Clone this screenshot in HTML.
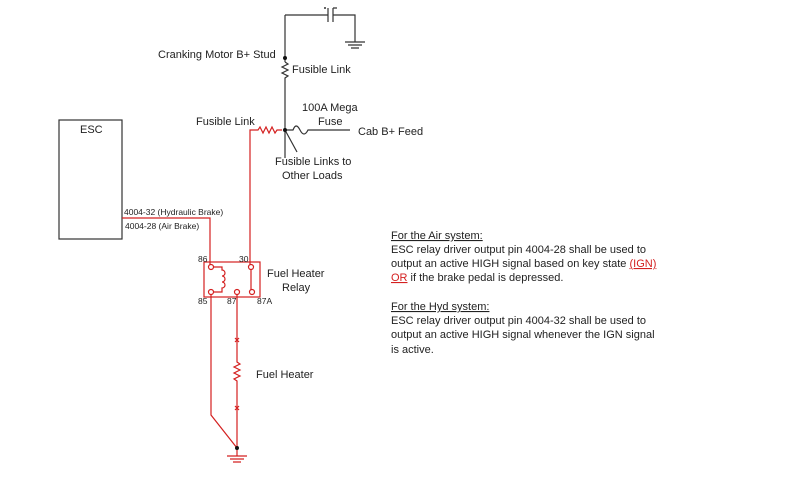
<!DOCTYPE html>
<html><head><meta charset="utf-8"><style>
html,body{margin:0;padding:0;background:#fff;width:800px;height:484px;overflow:hidden}
svg{display:block}
text{font-family:"Liberation Sans",Arial,sans-serif;fill:#222}
</style></head><body>
<svg width="800" height="484" viewBox="0 0 800 484" xmlns="http://www.w3.org/2000/svg">
<g fill="none" stroke="#333" stroke-width="1.2">
<path d="M285,15 H328 M333,15 H355 V42 M328,8 V22 M333,8 V22 M333,8 H337"/>
<path d="M285,15 V62 M285,62 l3,2 l-6,3 l6,3 l-6,3 l6,3 l-3,2 V130"/>
<path d="M345,42 H365 M348,45 H362 M351,48 H359"/>
<path d="M285,130 H293 q3,-8 7,0 q4,8 8,0 H350"/>
<path d="M285,130 V158 M285,130 L297,152"/>
<rect x="59" y="120" width="63" height="119"/>
</g>
<circle cx="325" cy="8" r="1" fill="#333"/>
<circle cx="285" cy="58" r="2" fill="#111"/>
<circle cx="285" cy="130" r="2" fill="#111"/>
<g fill="none" stroke="#d42020" stroke-width="1.2">
<path d="M250,265 V130 H258 l2,-3 l3,6 l3,-6 l3,6 l3,-6 l3,6 l2,-3 H282"/>
<path d="M122,218 H210 V265"/>
<rect x="204" y="262" width="56" height="35"/>
<circle cx="211" cy="267" r="2.5"/><circle cx="251" cy="267" r="2.5"/>
<circle cx="211" cy="292" r="2.5"/><circle cx="237" cy="292" r="2.5"/><circle cx="252" cy="292" r="2.5"/>
<path d="M213,267 H222 V270 a3,3 0 0 1 0,6 a3,3 0 0 1 0,6 a3,3 0 0 1 0,6 V292 H213"/>
<path d="M251,269 V290"/>
<path d="M211,294 V415 L237,448 M237,294 V362 l3,2 l-6,3 l6,3 l-6,3 l6,3 l-6,3 l3,2 V448 V456"/>
<path d="M235,338 l4,4 M239,338 l-4,4 M235,406 l4,4 M239,406 l-4,4"/>
<path d="M227,456 H247 M230,459 H244 M233,462 H241"/>
</g>
<circle cx="237" cy="448" r="2" fill="#111"/>
<g font-size="11">
<text x="158" y="58">Cranking Motor B+ Stud</text>
<text x="292" y="73">Fusible Link</text>
<text x="302" y="111">100A Mega</text>
<text x="318" y="125">Fuse</text>
<text x="196" y="125">Fusible Link</text>
<text x="358" y="135">Cab B+ Feed</text>
<text x="275" y="165">Fusible Links to</text>
<text x="282" y="179">Other Loads</text>
<text x="80" y="133">ESC</text>
<text x="267" y="277">Fuel Heater</text>
<text x="282" y="291">Relay</text>
<text x="256" y="378">Fuel Heater</text>
</g>
<g font-size="8.5">
<text x="124" y="215">4004-32 (Hydraulic Brake)</text>
<text x="125" y="229">4004-28 (Air Brake)</text>
<text x="198" y="262">86</text><text x="239" y="262">30</text>
<text x="198" y="304">85</text><text x="227" y="304">87</text><text x="257" y="304">87A</text>
</g>
<g font-size="11">
<text x="391" y="239" text-decoration="underline">For the Air system:</text>
<text x="391" y="253">ESC relay driver output pin 4004-28 shall be used to</text>
<text x="391" y="267">output an active HIGH signal based on key state <tspan fill="#d42020" text-decoration="underline">(IGN)</tspan></text>
<text x="391" y="281"><tspan fill="#d42020" text-decoration="underline">OR</tspan> if the brake pedal is depressed.</text>
<text x="391" y="310" text-decoration="underline">For the Hyd system:</text>
<text x="391" y="324">ESC relay driver output pin 4004-32 shall be used to</text>
<text x="391" y="338">output an active HIGH signal whenever the IGN signal</text>
<text x="391" y="353">is active.</text>
</g>
</svg>
</body></html>
